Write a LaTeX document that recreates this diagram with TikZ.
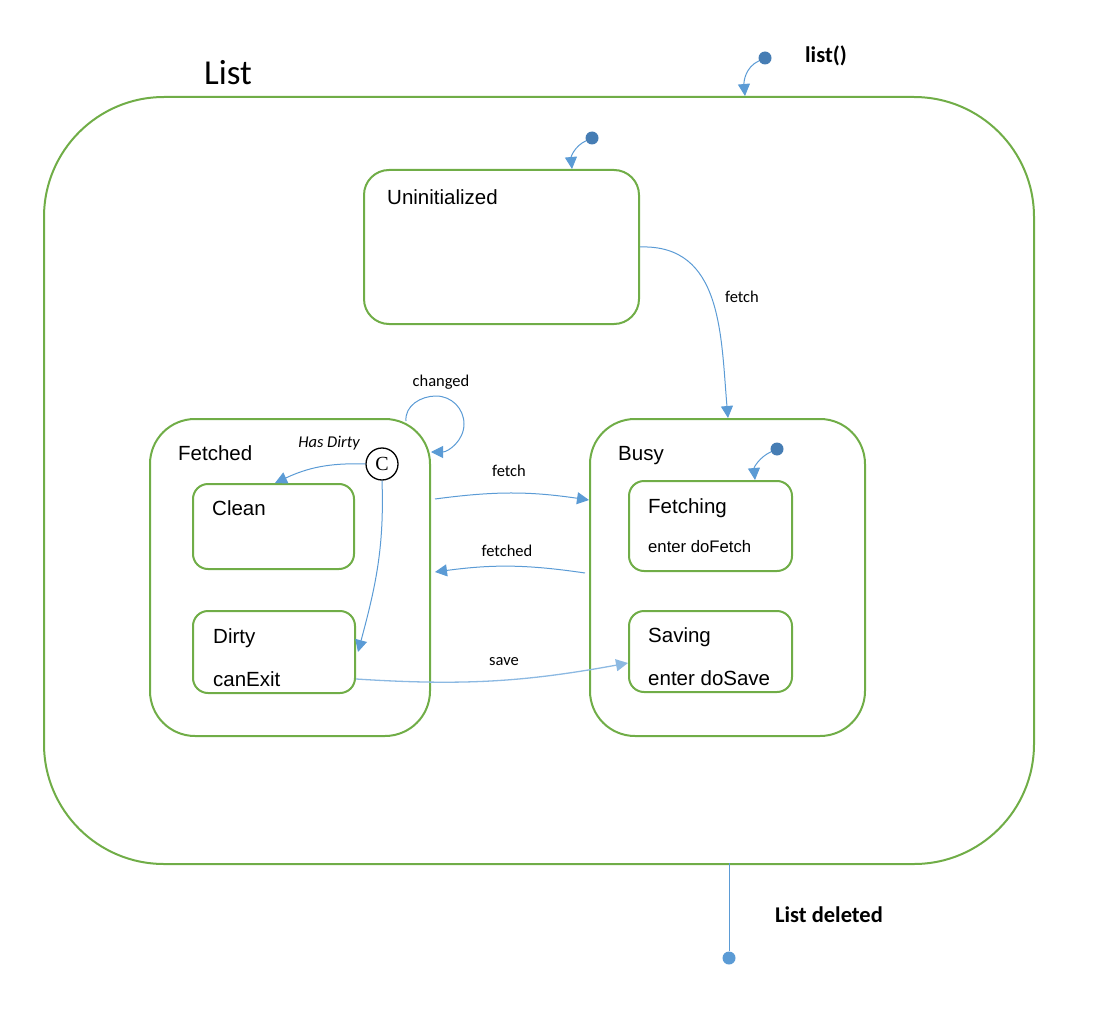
\documentclass[tikz,border=0pt]{standalone}
\usepackage{fontspec}
\setmainfont{Liberation Sans}
\newfontfamily\calfont{Carlito}
\newfontfamily\serfont{Liberation Serif}
\usepackage{tikz}
\usetikzlibrary{arrows.meta}

\definecolor{stgreen}{RGB}{112,173,71}
\definecolor{trblue}{RGB}{91,155,213}
\definecolor{dotblue}{RGB}{70,125,180}

\tikzset{
  statebox/.style={draw=stgreen, line width=2pt, inner sep=0pt, rounded corners=#1},
  trans/.style={draw=trblue, line width=1pt, -{Triangle[length=12pt,width=12pt]}},
  initdot/.style={circle, fill=#1, inner sep=0pt, minimum size=13pt},
  title/.style={anchor=base west, inner sep=0pt, font=\fontsize{20.5}{24}\selectfont},
  lbl/.style={anchor=base, inner sep=0pt, font=\calfont\fontsize{16.5}{20}\selectfont}
}

\begin{document}
\begin{tikzpicture}[x=1pt,y=-1pt]
\useasboundingbox (0,0) rectangle (1095,1011);

%Shape: outer state List
\node[statebox=120, minimum width=990, minimum height=767] (list) at (539,480.5) {};
% Text Node
\node[anchor=base, inner sep=0pt, font=\calfont\fontsize{35}{40}\selectfont] (listT) at (228,85) {List};

%Shape: Uninitialized
\node[statebox=25, minimum width=275, minimum height=154] (uninit) at (501.5,247) {};
%Shape: Fetched
\node[statebox=45, minimum width=280, minimum height=317] (fetched) at (290,577.5) {};
%Shape: Busy
\node[statebox=45, minimum width=275, minimum height=317] (busy) at (727.5,577.5) {};
%Shape: Clean
\node[statebox=15, minimum width=161, minimum height=85] (clean) at (273.5,526.5) {};
%Shape: Dirty
\node[statebox=15, minimum width=162, minimum height=82] (dirty) at (274,652) {};
%Shape: Fetching
\node[statebox=15, minimum width=163, minimum height=90] (fetching) at (710.5,526) {};
%Shape: Saving
\node[statebox=15, minimum width=163, minimum height=81] (saving) at (710.5,651.5) {};
%Shape: choice
\node[circle, draw, line width=1.3pt, minimum size=32pt, inner sep=0pt,
      font=\serfont\fontsize{20}{24}\selectfont] (choice) at (382,464) {C};

% Text Node
\node[title] (uninitT) at (387,205) {Uninitialized};
\node[title] (fetchedT) at (178,460) {Fetched};
\node[title] (busyT) at (618,460) {Busy};
\node[title] (cleanT) at (212,515) {Clean};
\node[title] (dirtyT) at (213,643) {Dirty};
\node[title] (dirtyX) at (213,686) {canExit};
\node[title] (fetchingT) at (648,513) {Fetching};
\node[title, font=\fontsize{16.7}{20}\selectfont] (fetchingX) at (648,552) {enter doFetch};
\node[title] (savingT) at (648,642) {Saving};
\node[title] (savingX) at (648,685) {enter doSave};

%Initial and final dots
\node[initdot=dotblue] (d0) at (765,58) {};
\node[initdot=dotblue] (d1) at (592,138) {};
\node[initdot=dotblue] (d2) at (777,449) {};
\node[initdot=trblue] (dend) at (729,958) {};

%Transitions
\draw[trans] (d0) to[out=205,in=95] ([xshift=206]list.north);
\draw[trans] (d1) to[out=205,in=95] ([xshift=70.5]uninit.north);
\draw[trans] (d2) to[out=205,in=95] ([xshift=44.5]fetching.north);
\draw[trans] (uninit.east) to[out=2,in=95,looseness=1.1] ([xshift=0.5]busy.north);
\draw[trans] ([xshift=4,yshift=78.5]fetched.east) to[bend left=8] ([yshift=77.5]busy.west);
\draw[trans] ([xshift=-4,yshift=4.5]busy.west) to[bend right=8] ([xshift=4,yshift=5.5]fetched.east);
\draw[trans, draw=trblue!70, line width=1.3pt] ([yshift=-27]dirty.east) to[bend right=7] ([yshift=-11.5]saving.west);
\draw[trans] (choice.west) to[out=178,in=25] ([xshift=1.5]clean.north);
\draw[trans] (choice.south) to[out=-88,in=75] ([xshift=2]dirty.east);
\draw[trans] ([xshift=-25,yshift=-3]fetched.north east) to[out=95,in=180] (436,396)
  to[out=0,in=90] (464,424) to[out=-90,in=0] ([yshift=125.5]fetched.east);
\draw[draw=trblue, line width=1pt] ([xshift=190,yshift=2]list.south) -- (dend);

% Text Node
\node[lbl] (fetch1L) at (742,302) {fetch};
\node[lbl] (changedL) at (441,386) {changed};
\node[lbl, font=\calfont\itshape\fontsize{16.5}{20}\selectfont] (hasdirtyL) at (329,447) {Has Dirty};
\node[lbl] (fetch2L) at (509,476) {fetch};
\node[lbl] (fetchedL) at (507,556) {fetched};
\node[lbl] (saveL) at (504,665) {save};
\node[lbl, font=\calfont\bfseries\fontsize{22.5}{26}\selectfont] (listcallL) at (826,63) {list()};
\node[lbl, font=\calfont\bfseries\fontsize{22.5}{26}\selectfont] (deletedL) at (829,922) {List deleted};

\end{tikzpicture}
\end{document}
